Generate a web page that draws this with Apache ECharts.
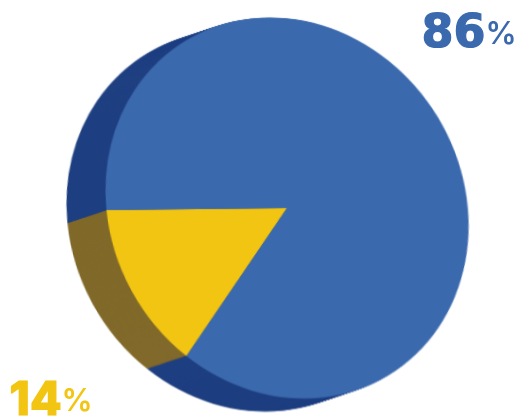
<!DOCTYPE html>
<html><head><meta charset="utf-8">
<style>html,body{margin:0;padding:0;background:#fff;overflow:hidden;width:518px;height:416px}
#c,#t{position:absolute;left:0;top:0;height:416px}
#c{width:600px;transform:matrix(0.949,0,0.089,1,-6.7,0);transform-origin:0 0}
#t{width:518px}</style>
<script src="https://cdn.jsdelivr.net/npm/echarts@6/dist/echarts.min.js"></script></head>
<body><div id="c"></div><div id="t"></div><script>
const categories = ['14%', '86%'];
const values = [14, 86];
const frontColors = ['#f2c512', '#3b69ae'];
const backColors = ['#80692a', '#1e3f80'];
const depthSteps = 40;
const chart = echarts.init(document.getElementById('c'), null, {renderer: 'canvas'});
const items = cols => categories.map((n, i) => ({name: n, value: values[i], itemStyle: {color: cols[i]}}));
const pie = (cx, cy, cols) => ({type: 'pie', clockwise: false, startAngle: 180.6, center: [cx, cy], radius: [0, 190.5],
  label: {show: false}, labelLine: {show: false}, silent: true, animation: false, data: items(cols)});
const front = [290, 208], back = [247.7, 221];
const series = [];
for (let i = 0; i < depthSteps; i++) {
  const k = i / depthSteps;
  series.push(pie(back[0] + (front[0] - back[0]) * k, back[1] + (front[1] - back[1]) * k, backColors));
}
series.push(pie(front[0], front[1], frontColors));
chart.setOption({animation: false, series});

const labels = echarts.init(document.getElementById('t'), null, {renderer: 'canvas'});
const label = (left, top, digits, color, family) => ({type: 'text', z: 10, left, top, style: {rich: {
  a: {font: '800 46px ' + family + ', sans-serif', fill: color, stroke: color, lineWidth: 1.2},
  b: {font: '600 31px Inter, sans-serif', fill: color}}, text: '{a|' + digits + '}{b|%}'}});
labels.setOption({graphic: [label(421, 11, '86', '#3b69ae', '"DejaVu Sans"'), label(9, 378, '14', '#f2c512', 'Inter')]});
</script></body></html>
